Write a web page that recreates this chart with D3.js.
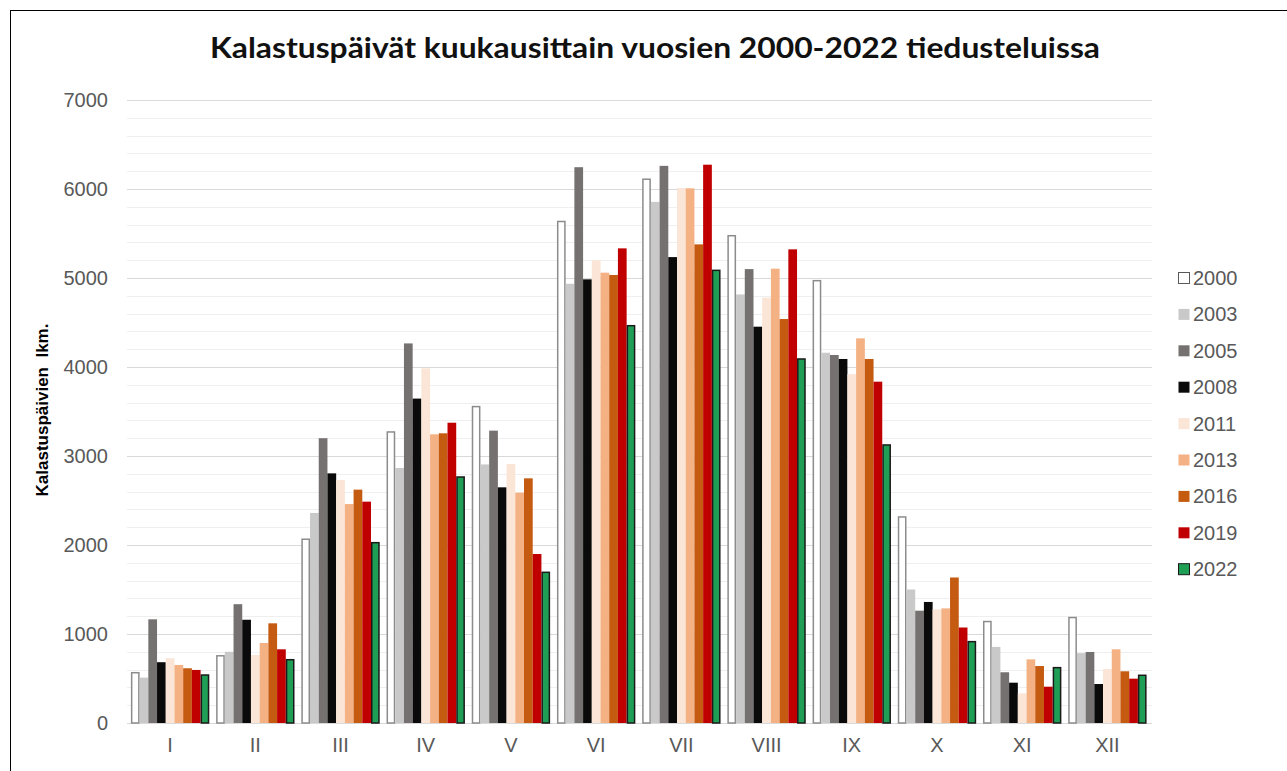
<!DOCTYPE html>
<html>
<head>
<meta charset="utf-8">
<script src="https://cdn.jsdelivr.net/npm/d3@7"></script>
<style>
  body { margin: 0; background: #fff; }
  svg { display: block; }
</style>
</head>
<body>
<div id="chart"></div>
<script>
(function () {

    // months and survey years
    var months = ["I", "II", "III", "IV", "V", "VI", "VII", "VIII", "IX", "X", "XI", "XII"];
    var years = ["2000", "2003", "2005", "2008", "2011", "2013", "2016", "2019", "2022"];
    var yTicks = [0, 1000, 2000, 3000, 4000, 5000, 6000, 7000];

    // fishing days per month, one array per year
    var v2000 = [565, 755, 2065, 3270, 3555, 5635, 6110, 5475, 4970, 2315, 1140, 1185];
    var v2003 = [510, 800, 2360, 2865, 2905, 4935, 5855, 4815, 4160, 1500, 855, 785];
    var v2005 = [1165, 1335, 3200, 4265, 3285, 6245, 6260, 5100, 4135, 1262, 570, 798];
    var v2008 = [683, 1160, 2805, 3645, 2648, 4985, 5235, 4453, 4090, 1360, 453, 438];
    var v2011 = [728, 764, 2730, 3985, 2910, 5200, 6010, 4780, 3920, 1277, 333, 607];
    var v2013 = [652, 899, 2460, 3244, 2588, 5060, 6008, 5105, 4322, 1288, 715, 828];
    var v2016 = [615, 1120, 2622, 3255, 2749, 5034, 5378, 4539, 4090, 1635, 640, 581];
    var v2019 = [596, 828, 2487, 3374, 1899, 5333, 6273, 5322, 3835, 1073, 408, 498];
    var v2022 = [539, 711, 2026, 2764, 1693, 4464, 5086, 4090, 3124, 914, 622, 536];
    var series = [v2000, v2003, v2005, v2008, v2011, v2013, v2016, v2019, v2022];

    var fills = ["#ffffff", "#c9c9c9", "#767171", "#0a0a0a", "#fbe5d6", "#f4b183", "#c55a11", "#c00000", "#1f9f55"];
    var strokes = ["#8c8c8c", "none", "none", "none", "none", "none", "none", "none", "#1a1a1a"];

    var width = 1287, height = 771;
    var svg = d3.select("#chart").append("svg")
        .attr("width", width).attr("height", height);

    // outer frame
    svg.append("rect")
        .attr("x", 10.5).attr("y", 10.5)
        .attr("width", width).attr("height", height)
        .style("fill", "#fff").style("stroke", "#000").style("stroke-width", 1);

    var x = d3.scaleBand().domain(months).range([127.5, 1150])
        .paddingInner(0.08).paddingOuter(0.04);
    var x1 = d3.scaleBand().domain(years).range([0, x.bandwidth()]);
    var y = d3.scaleLinear().domain([0, 7000]).range([723, 100]);

    // minor grid (every 200) and major grid (every 1000)
    var minor = d3.range(200, 7000, 200).filter(function (d) { return d % 1000 !== 0; });
    svg.append("g").selectAll("line").data(minor).enter().append("line")
        .attr("x1", 127).attr("x2", 1152)
        .attr("y1", function (d) { return Math.round(y(d)) + 0.5; })
        .attr("y2", function (d) { return Math.round(y(d)) + 0.5; })
        .style("stroke", "#efefef").style("stroke-width", 1);
    svg.append("g").selectAll("line").data(yTicks).enter().append("line")
        .attr("x1", 127).attr("x2", 1152)
        .attr("y1", function (d) { return Math.round(y(d)) + 0.5; })
        .attr("y2", function (d) { return Math.round(y(d)) + 0.5; })
        .style("stroke", "#d9d9d9").style("stroke-width", 1.2);

    // bars
    var groups = svg.append("g").selectAll("g").data(months).enter().append("g")
        .attr("transform", function (d) { return "translate(" + x(d) + ",0)"; });
    groups.selectAll("rect")
        .data(function (m, i) {
            return years.map(function (yr, k) { return {year: yr, k: k, v: series[k][i]}; });
        })
        .enter().append("rect")
        .attr("x", function (d) { return x1(d.year) + (strokes[d.k] === "none" ? 0 : 0.75); })
        .attr("width", function (d) { return x1.bandwidth() - (strokes[d.k] === "none" ? 0 : 1.5); })
        .attr("y", function (d) { return y(d.v); })
        .attr("height", function (d) { return y(0) - y(d.v); })
        .style("fill", function (d) { return fills[d.k]; })
        .style("stroke", function (d) { return strokes[d.k]; })
        .style("stroke-width", 1.5);

    // y tick labels
    svg.append("g").selectAll("text").data(yTicks).enter().append("text")
        .attr("x", 108).attr("y", function (d) { return y(d); })
        .attr("dy", "0.35em")
        .attr("text-anchor", "end")
        .style("font-family", "'Liberation Sans', Arial, sans-serif")
        .style("font-size", "20px").style("fill", "#595959")
        .text(function (d) { return d; });

    // x labels
    svg.append("g").selectAll("text").data(months).enter().append("text")
        .attr("x", function (d) { return x(d) + x.bandwidth() / 2; })
        .attr("y", 745).attr("dy", "0.35em")
        .attr("text-anchor", "middle")
        .style("font-family", "'Liberation Sans', Arial, sans-serif")
        .style("font-size", "20px").style("fill", "#595959")
        .text(function (d) { return d; });

    // title
    svg.append("text")
        .attr("x", 655).attr("y", 48).attr("dy", "0.35em")
        .attr("text-anchor", "middle")
        .attr("textLength", 890).attr("lengthAdjust", "spacingAndGlyphs")
        .style("font-family", "Lato, 'Open Sans', sans-serif")
        .style("font-weight", "bold").style("font-size", "28px").style("fill", "#111")
        .text("Kalastuspäivät kuukausittain vuosien 2000-2022 tiedusteluissa");

    // y axis title
    svg.append("text")
        .attr("transform", "translate(42,410) rotate(-90)")
        .attr("dy", "0.35em")
        .attr("text-anchor", "middle")
        .attr("xml:space", "preserve")
        .style("white-space", "pre")
        .style("font-family", "'Liberation Sans', Arial, sans-serif")
        .style("font-weight", "bold").style("font-size", "17px").style("fill", "#000")
        .text("Kalastuspäivien  lkm.");

    // legend
    var legend = svg.append("g").selectAll("g").data(years).enter().append("g")
        .attr("transform", function (d, i) { return "translate(1178," + (278 + i * 36.4) + ")"; });
    legend.append("rect")
        .attr("x", 0.5).attr("y", -5.5).attr("width", 11).attr("height", 11)
        .style("fill", function (d, i) { return fills[i]; })
        .style("stroke", function (d, i) { return i === 0 ? "#595959" : (i === 8 ? "#1a1a1a" : "none"); })
        .style("stroke-width", 1);
    legend.append("text")
        .attr("x", 15).attr("dy", "0.35em")
        .style("font-family", "'Liberation Sans', Arial, sans-serif")
        .style("font-size", "20px").style("fill", "#595959")
        .text(function (d) { return d; });

}());
</script>
</body>
</html>
